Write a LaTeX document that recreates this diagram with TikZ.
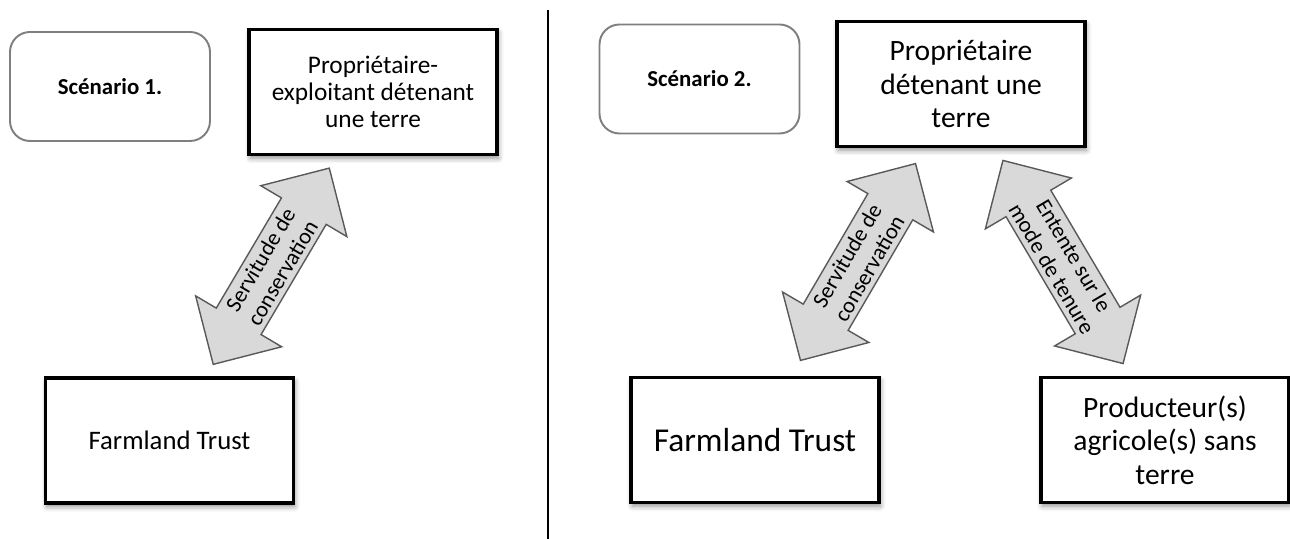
\documentclass[tikz,border=0pt]{standalone}
\usepackage{fontspec}
\setmainfont{Carlito}
\usepackage{tikz}
\usetikzlibrary{
    positioning,
    calc,
    shapes.arrows,
    shadows.blur
}
\definecolor{bordgris}{HTML}{7F7F7F}
\definecolor{flechefond}{HTML}{D9D9D9}
\definecolor{flechetrait}{HTML}{595959}
\tikzset{
    scenario/.style={
        draw=bordgris,
        line width=1.1pt,
        rounded corners=0.4cm,
        minimum width=4cm,
        minimum height=2.18cm,
        font=\bfseries\fontsize{13}{15}\selectfont
    },
    acteur/.style={
        draw,
        fill=white,
        line width=2.2pt,
        minimum width=4.96cm,
        minimum height=2.5cm,
        align=center,
        blur shadow={
            shadow xshift=0.8pt,
            shadow yshift=-2pt,
            shadow blur radius=3pt,
            shadow opacity=45
        }
    },
    relation/.style={
        double arrow,
        draw=flechetrait,
        fill=flechefond,
        line width=0.8pt,
        double arrow head extend=0.48cm,
        inner xsep=0pt,
        inner ysep=2.6pt,
        align=center,
        font=\fontsize{12.8}{14.6}\selectfont
    }
}

\begin{document}
\begin{tikzpicture}[
    petit/.style={font=\fontsize{14.4}{15.5}\selectfont},
    grand/.style={font=\fontsize{16.8}{19}\selectfont}
]
    \useasboundingbox (0,0) rectangle (25.8,-10.78);

    % Scénario 1
    \node[scenario]      (sc1)   at (2.2,-1.73)   {Scénario 1.};
    \node[acteur, petit] (prop1) at (7.46,-1.84)  {Propriétaire-\\exploitant détenant\\une terre};
    \node[acteur, petit, font=\fontsize{15.2}{16}\selectfont]
                         (ft1)   at (3.39,-8.81)  {Farmland Trust};

    % Séparation
    \coordinate (haut) at (10.96,-0.2);
    \coordinate (bas)  at (10.96,-10.78);
    \draw[line width=1.1pt] (haut) -- (bas);

    % Scénario 2
    \node[scenario]      (sc2)   at (13.99,-1.58) {Scénario 2.};
    \node[acteur, grand] (prop2) at (19.22,-1.68) {Propriétaire\\détenant une\\terre};
    \node[acteur, grand, font=\fontsize{19}{20}\selectfont]
                         (ft2)   at (15.1,-8.8)   {Farmland Trust};
    \node[acteur, grand] (prod)  at (23.3,-8.8)   {Producteur(s)\\agricole(s) sans\\terre};

    % Relations
    \node[relation, minimum height=4.56cm, rotate=59.4]
        (serv1) at ($(prop1.south)!0.5!(ft1.north)$)
        {Servitude de\\conservation};
    \node[relation, minimum height=4.56cm, rotate=59.7]
        (serv2) at ($(prop2.south)!0.5!(ft2.north)$)
        {Servitude de\\conservation};
    \node[relation, minimum height=4.72cm, rotate=-59.4]
        (tenure) at ($(prop2.south)!0.5!(prod.north)$)
        {Entente sur le\\mode de tenure};

\end{tikzpicture}
\end{document}
